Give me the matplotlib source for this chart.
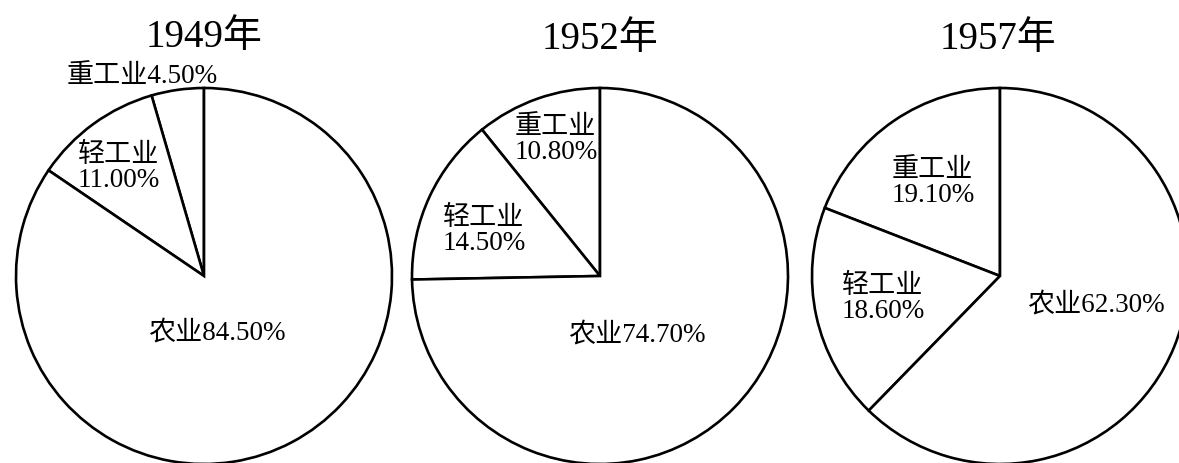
import matplotlib
matplotlib.use('Agg')
import matplotlib.pyplot as plt

plt.rcParams['font.family'] = ['Liberation Serif', 'Noto Sans CJK SC']

# 数据: 工业与农业在工农业总产值中的比重
years = ['1949年', '1952年', '1957年']
sectors = ['重工业', '轻工业', '农业']
heavy = [4.5, 10.8, 19.1]
light = [11.0, 14.5, 18.6]
farm = [84.5, 74.7, 62.3]

# 画布按像素坐标 (y 向下), 画图时再翻转
W, H = 1179, 464
centers_x = [204, 600, 1000]
center_y = 277
radius = 188
title_pos = [(204, 38), (600, 39), (998, 40)]

# 标签位置 (左对齐, 文本块垂直居中)
label_pos = [
    {'heavy': (67, 77), 'light': (78, 168), 'farm': (148, 333)},
    {'heavy': (515, 140), 'light': (443, 231), 'farm': (568, 335)},
    {'heavy': (892, 183), 'light': (842, 299), 'farm': (1027, 305)},
]
# 1949年重工业标签只占一行
one_line_heavy = [True, False, False]

fig = plt.figure(figsize=(W / 100, H / 100), dpi=100)
ax = fig.add_axes([0, 0, 1, 1])

fs = 19.5
for i, year in enumerate(years):
    vals = [heavy[i], light[i], farm[i]]
    ax.pie(vals, startangle=90, counterclock=True,
           center=(centers_x[i], H - center_y), radius=radius,
           wedgeprops=dict(facecolor='white', edgecolor='black', linewidth=1.9))

    tx, ty = title_pos[i]
    ax.text(tx, H - ty, year, ha='center', va='center', fontsize=28)

    pos = label_pos[i]
    x, y = pos['heavy']
    sep = '' if one_line_heavy[i] else '\n'
    ax.text(x, H - y, f'{sectors[0]}{sep}{heavy[i]:.2f}%', ha='left', va='center',
            fontsize=fs, linespacing=1.0)
    x, y = pos['light']
    ax.text(x, H - y, f'{sectors[1]}\n{light[i]:.2f}%', ha='left', va='center',
            fontsize=fs, linespacing=1.0)
    x, y = pos['farm']
    ax.text(x, H - y, f'{sectors[2]}{farm[i]:.2f}%', ha='left', va='center', fontsize=fs)

ax.set_xlim(0, W)
ax.set_ylim(0, H)
ax.set_aspect('equal')
ax.axis('off')

fig.savefig('out.png', dpi=100, facecolor='white')
